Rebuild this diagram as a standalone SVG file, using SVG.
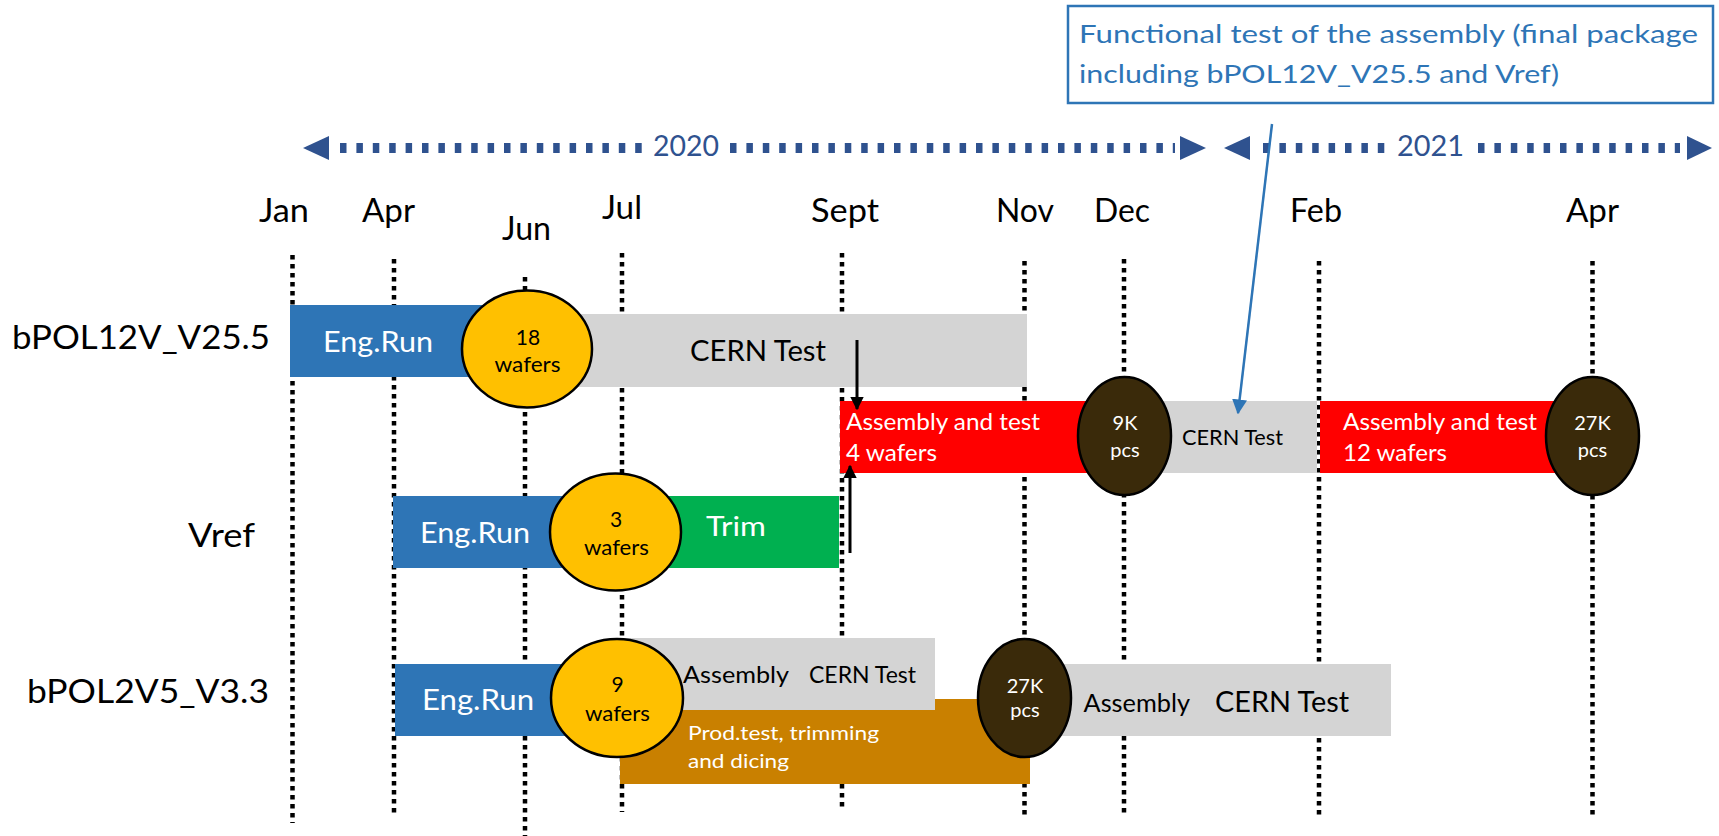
<svg xmlns="http://www.w3.org/2000/svg" width="1719" height="836" viewBox="0 0 1719 836">
<defs>
  <marker id="headBlack" viewBox="0 0 10 10" refX="9" refY="5" markerWidth="4.5" markerHeight="4.5" orient="auto">
    <path d="M0,0 L10,5 L0,10 z" fill="#000"/>
  </marker>
  <marker id="headBlue" viewBox="0 0 10 10" refX="9" refY="5" markerWidth="6" markerHeight="6" orient="auto">
    <path d="M0,0 L10,5 L0,10 z" fill="#2e75b6"/>
  </marker>
</defs>
<style>
  text { font-family: Lato, "Liberation Sans", sans-serif; }
  .grid { stroke: #000; stroke-width: 4.5; stroke-dasharray: 4.5 4.5; fill: none; }
  .year { stroke: #2f528f; stroke-width: 10; stroke-dasharray: 6.5 9.9; fill: none; }
  .yearhead { fill: #2f528f; }
  .yeartxt { fill: #2f528f; font-size: 28px; }
  .month { fill: #000; font-size: 32px; }
  .rowlbl { fill: #000; font-size: 32.5px; }
  .blue { fill: #2e75b6; }
  .gray { fill: #d4d4d4; }
  .red { fill: #ff0000; }
  .green { fill: #00b050; }
  .orange { fill: #c98000; }
  .wafer { fill: #ffc000; stroke: #000; stroke-width: 2.5; }
  .pcs { fill: #3a2a0a; stroke: #000; stroke-width: 2.5; }
  .w { fill: #fff; }
  .k { fill: #000; }
  .f28 { font-size: 29px; }
  .f21 { font-size: 21px; }
  .f20 { font-size: 20px; }
  .f23 { font-size: 22.5px; }
  .f25 { font-size: 25.5px; }
  .f27 { font-size: 27px; }
  .f29 { font-size: 29px; }
  .link { stroke: #000; stroke-width: 3; fill: none; }
  .callout { stroke: #2e75b6; stroke-width: 2.5; fill: none; }
</style>

<rect x="0" y="0" width="1719" height="836" fill="#fff"/>

<!-- year spans -->
<g id="year-2020">
  <polygon class="yearhead" points="303,148 329,136 329,160"/>
  <line class="year" x1="340" y1="148" x2="642" y2="148"/>
  <text class="yeartxt" x="653" y="156" textLength="66" lengthAdjust="spacingAndGlyphs">2020</text>
  <line class="year" x1="730" y1="148" x2="1175" y2="148"/>
  <polygon class="yearhead" points="1206,148 1180,136 1180,160"/>
</g>
<g id="year-2021">
  <polygon class="yearhead" points="1224,148 1250,136 1250,160"/>
  <line class="year" x1="1263" y1="148" x2="1388" y2="148"/>
  <text class="yeartxt" x="1397" y="156" textLength="67" lengthAdjust="spacingAndGlyphs">2021</text>
  <line class="year" x1="1478" y1="148" x2="1680" y2="148"/>
  <polygon class="yearhead" points="1712,148 1687,136 1687,160"/>
</g>

<!-- month labels -->
<g id="months">
  <text class="month" x="259" y="222" textLength="50" lengthAdjust="spacingAndGlyphs">Jan</text>
  <text class="month" x="362" y="222" textLength="53" lengthAdjust="spacingAndGlyphs">Apr</text>
  <text class="month" x="502" y="240" textLength="49" lengthAdjust="spacingAndGlyphs">Jun</text>
  <text class="month" x="602" y="219" textLength="40" lengthAdjust="spacingAndGlyphs">Jul</text>
  <text class="month" x="811" y="222" textLength="68" lengthAdjust="spacingAndGlyphs">Sept</text>
  <text class="month" x="996" y="222" textLength="58" lengthAdjust="spacingAndGlyphs">Nov</text>
  <text class="month" x="1094" y="222" textLength="56" lengthAdjust="spacingAndGlyphs">Dec</text>
  <text class="month" x="1290" y="222" textLength="52" lengthAdjust="spacingAndGlyphs">Feb</text>
  <text class="month" x="1566" y="222" textLength="53" lengthAdjust="spacingAndGlyphs">Apr</text>
</g>

<!-- dotted month guides -->
<g id="guides">
  <line class="grid" x1="292.5" y1="255" x2="292.5" y2="823"/>
  <line class="grid" x1="394" y1="259" x2="394" y2="815"/>
  <line class="grid" x1="525" y1="277" x2="525" y2="836"/>
  <line class="grid" x1="622" y1="253" x2="622" y2="812"/>
  <line class="grid" x1="842" y1="253" x2="842" y2="810"/>
  <line class="grid" x1="1024.5" y1="261" x2="1024.5" y2="818"/>
  <line class="grid" x1="1124" y1="259" x2="1124" y2="815"/>
  <line class="grid" x1="1319" y1="261" x2="1319" y2="818"/>
  <line class="grid" x1="1592.5" y1="261" x2="1592.5" y2="818"/>
</g>

<!-- row labels -->
<g id="labels">
  <text class="rowlbl" x="12" y="349" textLength="258" lengthAdjust="spacingAndGlyphs">bPOL12V_V25.5</text>
  <text class="rowlbl" x="188" y="547" textLength="67" lengthAdjust="spacingAndGlyphs">Vref</text>
  <text class="rowlbl" x="27" y="703" textLength="242" lengthAdjust="spacingAndGlyphs">bPOL2V5_V3.3</text>
</g>

<!-- bPOL12V_V25.5 row -->
<g id="r1-engrun">
  <rect class="blue" x="290" y="305" width="220" height="72"/>
  <text class="w f28" x="323" y="352" textLength="110" lengthAdjust="spacingAndGlyphs">Eng.Run</text>
</g>
<g id="r1-cern">
  <rect class="gray" x="560" y="314" width="467" height="73"/>
  <text class="k f29" x="690" y="361" textLength="136" lengthAdjust="spacingAndGlyphs">CERN Test</text>
</g>
<g id="r1-wafers">
  <ellipse class="wafer" cx="527" cy="349" rx="65" ry="58.5"/>
  <text class="k f21" x="528" y="345" text-anchor="middle">18</text>
  <text class="k f21" x="527.5" y="372" text-anchor="middle" textLength="66" lengthAdjust="spacingAndGlyphs">wafers</text>
</g>
<g id="r1-assy1">
  <rect class="red" x="840" y="401" width="275" height="72"/>
  <text class="w f23" x="846" y="430" textLength="194" lengthAdjust="spacingAndGlyphs">Assembly and test</text>
  <text class="w f23" x="846" y="461" textLength="91" lengthAdjust="spacingAndGlyphs">4 wafers</text>
</g>
<g id="r1-cern2">
  <rect class="gray" x="1140" y="401" width="177" height="72"/>
  <text class="k f21" x="1182" y="445" textLength="101" lengthAdjust="spacingAndGlyphs">CERN Test</text>
</g>
<g id="r1-9k">
  <ellipse class="pcs" cx="1124.5" cy="436" rx="46.5" ry="59"/>
  <text class="w f20" x="1125" y="430" text-anchor="middle">9K</text>
  <text class="w f20" x="1125" y="457" text-anchor="middle">pcs</text>
</g>
<g id="r1-assy2">
  <rect class="red" x="1320" y="401" width="265" height="72"/>
  <text class="w f23" x="1343" y="430" textLength="194" lengthAdjust="spacingAndGlyphs">Assembly and test</text>
  <text class="w f23" x="1343" y="461" textLength="104" lengthAdjust="spacingAndGlyphs">12 wafers</text>
</g>
<g id="r1-27k">
  <ellipse class="pcs" cx="1592.5" cy="436" rx="46.5" ry="59"/>
  <text class="w f20" x="1592.5" y="430" text-anchor="middle">27K</text>
  <text class="w f20" x="1592.5" y="457" text-anchor="middle">pcs</text>
</g>

<!-- Vref row -->
<g id="r2-engrun">
  <rect class="blue" x="393" y="496" width="210" height="72"/>
  <text class="w f28" x="420" y="543" textLength="110" lengthAdjust="spacingAndGlyphs">Eng.Run</text>
</g>
<g id="r2-trim">
  <rect class="green" x="630" y="496" width="209" height="72"/>
  <text class="w f27" x="706" y="536" textLength="60" lengthAdjust="spacingAndGlyphs">Trim</text>
</g>
<g id="r2-wafers">
  <ellipse class="wafer" cx="615.5" cy="532" rx="65.5" ry="58.5"/>
  <text class="k f21" x="616" y="527" text-anchor="middle">3</text>
  <text class="k f21" x="616.5" y="555" text-anchor="middle" textLength="65" lengthAdjust="spacingAndGlyphs">wafers</text>
</g>

<!-- bPOL2V5_V3.3 row -->
<g id="r3-engrun">
  <rect class="blue" x="395" y="664" width="210" height="72"/>
  <text class="w f28" x="422" y="710" textLength="112" lengthAdjust="spacingAndGlyphs">Eng.Run</text>
</g>
<g id="r3-prodtest">
  <rect class="orange" x="620" y="699" width="410" height="85"/>
  <text class="w f20" x="688" y="740" textLength="191" lengthAdjust="spacingAndGlyphs">Prod.test, trimming</text>
  <text class="w f20" x="688" y="768" textLength="101" lengthAdjust="spacingAndGlyphs">and dicing</text>
</g>
<g id="r3-cern1">
  <rect class="gray" x="620" y="638" width="315" height="72"/>
  <text class="k f23" x="683" y="683" textLength="106" lengthAdjust="spacingAndGlyphs">Assembly</text>
  <text class="k f23" x="809" y="683" textLength="107" lengthAdjust="spacingAndGlyphs">CERN Test</text>
</g>
<g id="r3-wafers">
  <ellipse class="wafer" cx="617" cy="698" rx="66" ry="59"/>
  <text class="k f21" x="617.5" y="692" text-anchor="middle">9</text>
  <text class="k f21" x="617.5" y="721" text-anchor="middle" textLength="65" lengthAdjust="spacingAndGlyphs">wafers</text>
</g>
<g id="r3-cern2">
  <rect class="gray" x="1040" y="664" width="351" height="72"/>
  <text class="k f25" x="1083.5" y="712" textLength="106.5" lengthAdjust="spacingAndGlyphs">Assembly</text>
  <text class="k f29" x="1215" y="712" textLength="134" lengthAdjust="spacingAndGlyphs">CERN Test</text>
</g>
<g id="r3-27k">
  <ellipse class="pcs" cx="1024.5" cy="698" rx="46.5" ry="59"/>
  <text class="w f20" x="1025" y="693" text-anchor="middle">27K</text>
  <text class="w f20" x="1025" y="717" text-anchor="middle">pcs</text>
</g>

<!-- callout -->
<g id="note">
  <rect x="1068" y="6" width="645" height="97" fill="#fff" stroke="#2e75b6" stroke-width="2.5"/>
  <text fill="#2e75b6" font-size="24.5" x="1079" y="43" textLength="619" lengthAdjust="spacingAndGlyphs">Functional test of the assembly (final package</text>
  <text fill="#2e75b6" font-size="24.5" x="1079" y="83" textLength="480" lengthAdjust="spacingAndGlyphs">including bPOL12V_V25.5 and Vref)</text>
</g>

<!-- connectors -->
<g id="connectors">
  <line class="link" x1="857" y1="340" x2="857" y2="409" marker-end="url(#headBlack)"/>
  <line class="link" x1="850" y1="553" x2="850" y2="466" marker-end="url(#headBlack)"/>
  <line class="callout" x1="1272" y1="124" x2="1238" y2="413" marker-end="url(#headBlue)"/>
</g>
</svg>
